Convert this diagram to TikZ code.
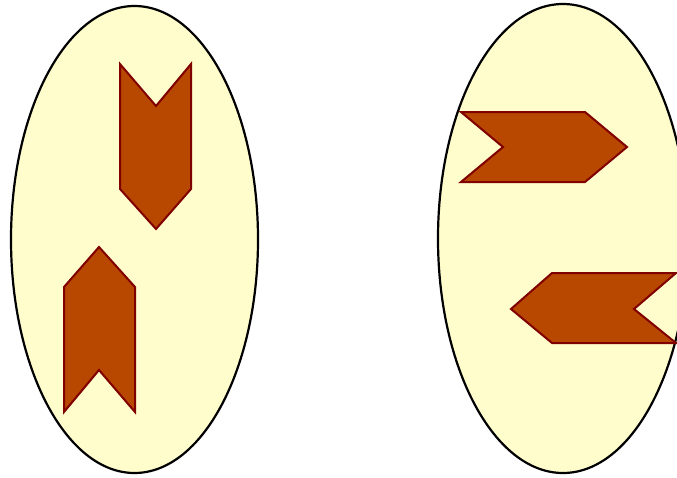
\documentclass[tikz,border=0pt]{standalone}
\begin{document}
\begin{tikzpicture}[x=1pt,y=-1pt,
  blob/.style={draw=black,line width=2.2pt,fill={rgb,255:red,255;green,253;blue,204}},
  chev/.style={draw={rgb,255:red,128;green,0;blue,0},line width=2pt,fill={rgb,255:red,184;green,71;blue,0},line join=miter}]
\useasboundingbox (0,0) rectangle (677,477);
\clip (0,0) rectangle (677,477);
\draw[blob] (134.5,239.5) ellipse [x radius=123.5, y radius=233.5];
\draw[blob] (563,238.5) ellipse [x radius=125, y radius=234.5];
\draw[chev] (120,64) -- (156,106) -- (191,64) -- (191,189) -- (156,229) -- (120,189) -- cycle;
\draw[chev] (64,412) -- (99,370) -- (135,412) -- (135,287) -- (99,247) -- (64,287) -- cycle;
\draw[chev] (461,112) -- (503,147) -- (461,182) -- (585,182) -- (627,147) -- (585,112) -- cycle;
\draw[chev] (676,273) -- (634,309) -- (676,343) -- (552,343) -- (511,309) -- (552,273) -- cycle;
\end{tikzpicture}
\end{document}
